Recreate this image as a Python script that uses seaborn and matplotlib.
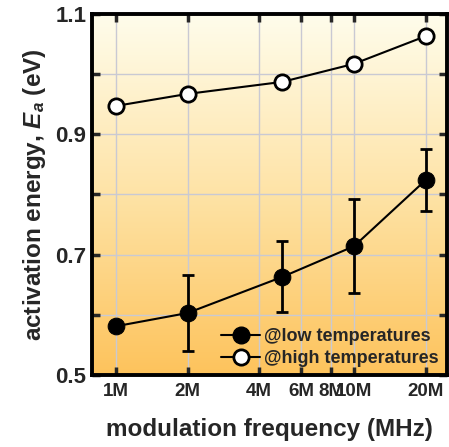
import numpy as np
import pandas as pd
import matplotlib
matplotlib.use("Agg")
import matplotlib.pyplot as plt
import seaborn as sns
from matplotlib.colors import LinearSegmentedColormap
from matplotlib.lines import Line2D

# data (frequency in MHz, energy in eV)
freq = [1, 2, 5, 10, 20]
ea_low = [0.581, 0.603, 0.663, 0.714, 0.824]
low_err_down = [0.0, 0.063, 0.059, 0.078, 0.052]
low_err_up = [0.0, 0.064, 0.059, 0.079, 0.052]
ea_high = [0.947, 0.967, 0.987, 1.017, 1.063]
high_err = [0.010, 0.005, 0.005, 0.006, 0.004]

xtick_pos = [1, 2, 4, 6, 8, 10, 20]
xtick_labels = ["1M", "2M", "4M", "6M", "8M", "10M", "20M"]

sns.set_style("ticks")
plt.rcParams["font.family"] = ["Liberation Sans", "DejaVu Sans"]
plt.rcParams["font.weight"] = "bold"
plt.rcParams["mathtext.fontset"] = "custom"
plt.rcParams["mathtext.it"] = "Liberation Sans:italic:bold"
plt.rcParams["mathtext.rm"] = "Liberation Sans:bold"


def main():
    df = pd.DataFrame({"freq": freq + freq,
                       "ea": ea_low + ea_high,
                       "series": ["low"] * 5 + ["high"] * 5})

    fig = plt.figure(figsize=(4.49, 4.47), dpi=100)
    ax = fig.add_axes([0.205, 0.161, 0.79, 0.808])

    # background gradient: cream at top, orange at bottom
    cmap = LinearSegmentedColormap.from_list("bg", ["#fdc35c", "#fee3a6", "#fffdec"])
    grad = np.linspace(0, 1, 256).reshape(-1, 1)
    ax.imshow(grad, extent=[0, 1, 0, 1], transform=ax.transAxes, origin="lower",
              aspect="auto", cmap=cmap, zorder=0)

    ax.set_xscale("log")
    ax.set_xlim(0.795, 24.5)
    ax.set_ylim(0.5, 1.1)

    ax.set_xticks(xtick_pos)
    ax.set_xticklabels(xtick_labels)
    ax.xaxis.set_minor_locator(matplotlib.ticker.NullLocator())
    ax.set_yticks([0.5, 0.6, 0.7, 0.8, 0.9, 1.0, 1.1])
    ax.set_yticklabels(["0.5", "", "0.7", "", "0.9", "", "1.1"])

    ax.grid(True, color="#c9c9d3", linewidth=1.0, zorder=1)
    ax.set_axisbelow(False)

    ax.errorbar(freq, ea_low, yerr=[low_err_down, low_err_up], fmt="none",
                ecolor="black", elinewidth=2, capsize=4, capthick=2, zorder=3)
    ax.errorbar(freq, ea_high, yerr=high_err, fmt="none",
                ecolor="black", elinewidth=2, capsize=3, capthick=2, zorder=3)

    low = df[df.series == "low"]
    high = df[df.series == "high"]
    sns.lineplot(data=low, x="freq", y="ea", ax=ax, color="black", linewidth=1.5,
                 marker="o", markersize=12, markerfacecolor="black",
                 markeredgecolor="black", zorder=4)
    sns.lineplot(data=high, x="freq", y="ea", ax=ax, color="black", linewidth=1.5,
                 marker="o", markersize=11, markerfacecolor="white",
                 markeredgecolor="black", markeredgewidth=2, zorder=4)

    for s in ax.spines.values():
        s.set_linewidth(2.8)
        s.set_color("black")
        s.set_zorder(5)
    ax.tick_params(direction="in", length=6, width=2.5, top=True, right=True,
                   labelsize=16, pad=4)
    ax.tick_params(axis="x", labelsize=13.5, pad=6)

    ax.set_xlabel("modulation frequency (MHz)", fontsize=17.5, fontweight="bold", labelpad=13)
    ax.set_ylabel("activation energy, $E_a$ (eV)", fontsize=17.5, fontweight="bold", labelpad=5)

    handles = [
        Line2D([], [], color="black", lw=1.5, marker="o", markersize=12,
               markerfacecolor="black", markeredgecolor="black"),
        Line2D([], [], color="black", lw=1.5, marker="o", markersize=11,
               markerfacecolor="white", markeredgecolor="black", markeredgewidth=2),
    ]
    leg = ax.legend(handles, ["@low temperatures", "@high temperatures"],
                    loc="lower right", frameon=False, fontsize=13,
                    handlelength=2.2, handletextpad=0.2, borderaxespad=0.05,
                    labelspacing=0.25)
    for t in leg.get_texts():
        t.set_fontweight("bold")

    fig.savefig("out.png", dpi=100)


if __name__ == "__main__":
    main()
